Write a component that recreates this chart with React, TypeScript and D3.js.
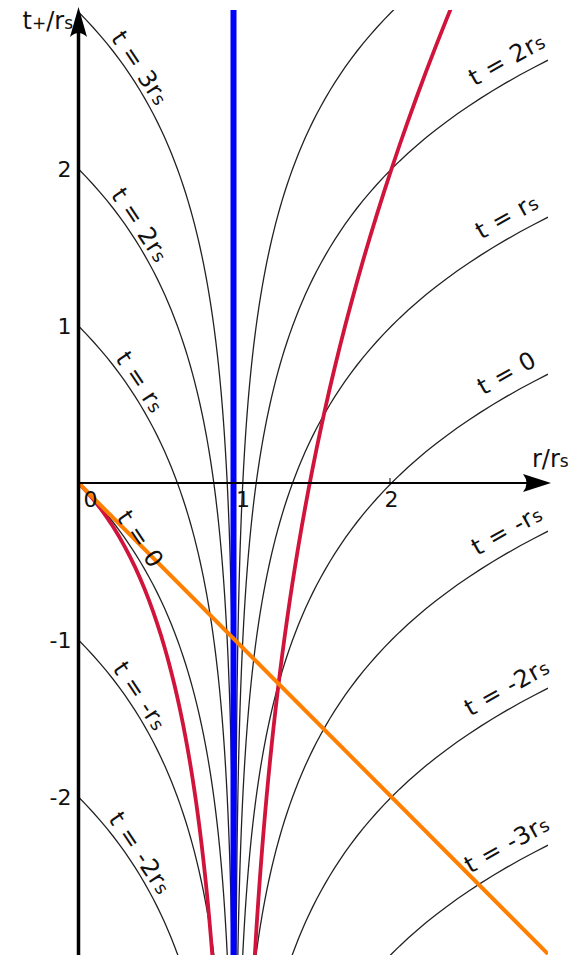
import React from 'react';
import * as d3 from 'd3';

// t = const slices, in units of r_s
const sliceTimes = [-3, -2, -1, 0, 1, 2, 3];
// which slices get a label, left of the horizon and right of it
const insideLabels = [3, 2, 1, 0, -1, -2];
const outsideLabels = [2, 1, 0, -1, -2, -3];
const yTickValues = [2, 1, -1, -2];
const xTickValues = [0, 1, 2];

const W = 572;
const H = 955;
const FONT = '"DejaVu Sans", Verdana, sans-serif';

const x = d3.scaleLinear().domain([0, 3]).range([78.5, 548]);
const y = d3.scaleLinear().domain([-3, 3]).range([954, 12]);

// t+ for a slice of constant t (ingoing Eddington-Finkelstein, r_s = 1)
const slice = (t: number, r: number) => t + Math.log(Math.abs(r - 1));
// outgoing light ray through the origin
const outgoing = (r: number) => r + 2 * Math.log(Math.abs(r - 1));

// r samples crowding towards the horizon
const insideR = d3.range(0, 14.01, 0.05).map(k => 1 - Math.exp(-k));
const outsideR = d3.range(-0.7, 14.01, 0.05).map(k => 1 + Math.exp(-k)).reverse()
  .filter(r => r <= 3);
outsideR.push(3);

const line = d3.line<[number, number]>().x(d => x(d[0])).y(d => y(d[1]));

function rs(label: number) {
  if (label === 0) return ['t = 0', ''];
  const k = Math.abs(label) === 1 ? '' : String(Math.abs(label));
  return [`t = ${label < 0 ? '-' : ''}${k}r`, 's'];
}

function curveLabel(t: number, r0: number, off: number, key: string) {
  const h = 0.01;
  const px = x(r0), py = y(slice(t, r0));
  const dx = x(r0 + h) - x(r0 - h);
  const dy = y(slice(t, r0 + h)) - y(slice(t, r0 - h));
  const ang = (Math.atan2(dy, dx) * 180) / Math.PI;
  const [main, sub] = rs(t);
  return (
    <text key={key} transform={`translate(${px},${py}) rotate(${ang})`} y={-off}
      textAnchor="middle" fontFamily={FONT} fontSize={24} letterSpacing={0.6} fill="#111">
      {main}
      {sub && <tspan fontSize={18}>{sub}</tspan>}
    </text>
  );
}

export default function App() {
  const redInside = line(insideR.map(r => [r, outgoing(r)] as [number, number]));
  const redOutside = line(outsideR.map(r => [r, outgoing(r)] as [number, number]));
  const y0 = y(0);
  const ax = x(0);

  return (
    <div style={{ position: 'absolute', left: 0, top: 0 }}>
      <svg width={W} height={H} style={{ display: 'block', background: '#fff' }}>
        <defs>
          <clipPath id="plot">
            <rect x={ax} y={10} width={x(3) - ax} height={H - 10} />
          </clipPath>
        </defs>

        <g clipPath="url(#plot)" fill="none">
          {sliceTimes.map(t => (
            <g key={t} stroke="#222" strokeWidth={1.3}>
              <path d={line(insideR.map(r => [r, slice(t, r)] as [number, number])) || ''} />
              <path d={line(outsideR.map(r => [r, slice(t, r)] as [number, number])) || ''} />
            </g>
          ))}
          <path d={redInside || ''} stroke="#d0143c" strokeWidth={3.8} />
          <path d={redOutside || ''} stroke="#d0143c" strokeWidth={3.8} />
          <line x1={x(1) - 1.5} x2={x(1) - 1.5} y1={10} y2={H} stroke="#0000ff" strokeWidth={6} />
          <path d={line([[0, 0], [3, -3]]) || ''} stroke="#ff8000" strokeWidth={4} />
        </g>

        {/* x axis */}
        <line x1={ax} x2={532} y1={y0} y2={y0} stroke="#000" strokeWidth={2} />
        <path d={`M551,${y0} L523,${y0 - 9} Q530,${y0} 523,${y0 + 9} Z`} fill="#000" />
        {xTickValues.filter(v => v > 0).map(v => (
          <line key={v} x1={x(v) - 1.5} x2={x(v) - 1.5} y1={y0 - 5} y2={y0} stroke="#000" strokeWidth={1} />
        ))}
        {xTickValues.map(v => (
          <text key={v} x={x(v) + (v === 0 ? 12 : v === 1 ? 8 : 0)} y={y0 + 24}
            textAnchor="middle" fontFamily={FONT} fontSize={22} fill="#111">{v}</text>
        ))}
        <text x={532} y={y0 - 16} fontFamily={FONT} fontSize={24} fill="#111">
          r/r<tspan fontSize={17}>s</tspan>
        </text>

        {/* y axis */}
        <line x1={ax} x2={ax} y1={H} y2={28} stroke="#000" strokeWidth={3.5} />
        <path d={`M${ax},7 L${ax + 8.5},37 Q${ax},29 ${ax - 8.5},37 Z`} fill="#000" />
        {yTickValues.map(v => (
          <text key={v} x={ax - 7} y={y(v) + 8} textAnchor="end"
            fontFamily={FONT} fontSize={22} fill="#111">{v}</text>
        ))}
        <text x={73} y={29} textAnchor="end" fontFamily={FONT} fontSize={24} fill="#111">
          t<tspan fontSize={17}>+</tspan>/r<tspan fontSize={17}>s</tspan>
        </text>

        {insideLabels.map(t => curveLabel(t, 0.33, 4, 'in' + t))}
        {outsideLabels.map(t => curveLabel(t, 2.8, 12, 'out' + t))}
      </svg>
    </div>
  );
}
